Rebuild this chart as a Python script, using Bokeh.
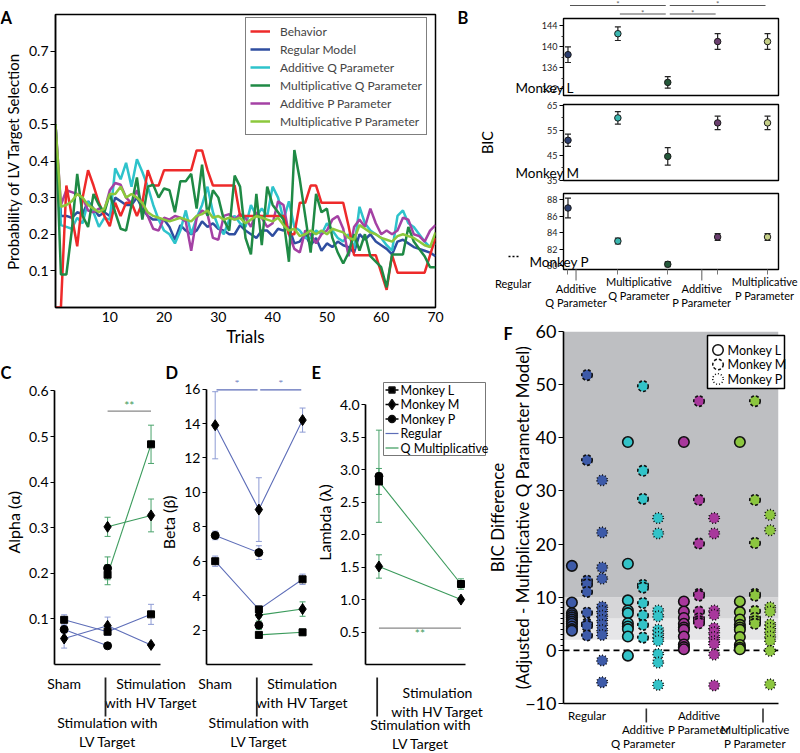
import math
from bokeh.plotting import figure
from bokeh.models import (ColumnDataSource, Range1d, FixedTicker, Legend, LegendItem,
                          Whisker, TeeHead, BoxAnnotation, Span, PrintfTickFormatter)
from bokeh.layouts import row, column
from bokeh.embed import file_html
from bokeh.resources import INLINE
from bokeh.core.properties import value

# ---------------- DATA ----------------
trials = list(range(71))
behavior = [0.0, 0.0, 0.333, 0.25, 0.167, 0.30, 0.375, 0.333, 0.286, 0.25,
            0.222, 0.286, 0.25, 0.286, 0.286, 0.25, 0.286, 0.375, 0.333, 0.333,
            0.375, 0.375, 0.375, 0.375, 0.375, 0.375, 0.429, 0.429, 0.375, 0.333,
            0.333, 0.333, 0.333, 0.333, 0.25, 0.25, 0.25, 0.25, 0.25, 0.25,
            0.25, 0.25, 0.25, 0.20, 0.20, 0.286, 0.286, 0.333, 0.333, 0.286,
            0.286, 0.286, 0.286, 0.286, 0.222, 0.143, 0.143, 0.143, 0.143, 0.143,
            0.095, 0.048, 0.143, 0.095, 0.095, 0.095, 0.095, 0.095, 0.095, 0.143, 0.19]
regular_model = [0.5, 0.25, 0.25, 0.245, 0.26, 0.255, 0.29, 0.27, 0.25, 0.26,
                 0.25, 0.30, 0.29, 0.28, 0.28, 0.30, 0.27, 0.25, 0.24, 0.24,
                 0.24, 0.22, 0.185, 0.225, 0.21, 0.20, 0.21, 0.235, 0.22, 0.23,
                 0.215, 0.21, 0.20, 0.20, 0.225, 0.21, 0.20, 0.19, 0.21, 0.21,
                 0.195, 0.215, 0.21, 0.22, 0.175, 0.18, 0.20, 0.17, 0.19, 0.155,
                 0.175, 0.165, 0.18, 0.17, 0.165, 0.15, 0.20, 0.185, 0.20, 0.18,
                 0.17, 0.16, 0.145, 0.18, 0.185, 0.175, 0.165, 0.16, 0.155, 0.15, 0.14]
additive_q = [0.5, 0.225, 0.22, 0.215, 0.245, 0.23, 0.29, 0.26, 0.22, 0.245,
              0.24, 0.38, 0.35, 0.395, 0.33, 0.405, 0.37, 0.33, 0.28, 0.24,
              0.21, 0.20, 0.175, 0.21, 0.265, 0.20, 0.245, 0.28, 0.33, 0.26,
              0.22, 0.20, 0.24, 0.25, 0.23, 0.22, 0.28, 0.25, 0.27, 0.25,
              0.33, 0.30, 0.24, 0.29, 0.22, 0.21, 0.19, 0.19, 0.21, 0.20,
              0.23, 0.21, 0.19, 0.18, 0.20, 0.16, 0.275, 0.23, 0.21, 0.20,
              0.19, 0.17, 0.155, 0.25, 0.265, 0.23, 0.22, 0.20, 0.18, 0.165, 0.175]
multiplicative_q = [0.5, 0.09, 0.09, 0.21, 0.365, 0.25, 0.22, 0.31, 0.28, 0.26,
                    0.31, 0.26, 0.215, 0.21, 0.28, 0.355, 0.24, 0.33, 0.335, 0.30,
                    0.325, 0.32, 0.26, 0.345, 0.345, 0.365, 0.27, 0.39, 0.25, 0.32,
                    0.30, 0.24, 0.21, 0.36, 0.33, 0.19, 0.145, 0.31, 0.17, 0.33,
                    0.28, 0.26, 0.24, 0.125, 0.43, 0.35, 0.25, 0.15, 0.31, 0.26,
                    0.27, 0.19, 0.15, 0.12, 0.15, 0.20, 0.155, 0.20, 0.14, 0.125,
                    0.11, 0.055, 0.145, 0.145, 0.145, 0.22, 0.18, 0.16, 0.14, 0.11, 0.11]
additive_p = [0.5, 0.28, 0.32, 0.315, 0.31, 0.30, 0.265, 0.26, 0.27, 0.265,
              0.32, 0.34, 0.335, 0.30, 0.285, 0.32, 0.28, 0.25, 0.215, 0.21,
              0.245, 0.24, 0.25, 0.245, 0.235, 0.155, 0.245, 0.265, 0.255, 0.19,
              0.185, 0.25, 0.255, 0.24, 0.255, 0.245, 0.22, 0.26, 0.245, 0.22,
              0.23, 0.29, 0.28, 0.20, 0.16, 0.15, 0.21, 0.20, 0.175, 0.20,
              0.21, 0.24, 0.25, 0.215, 0.14, 0.22, 0.24, 0.22, 0.27, 0.23,
              0.20, 0.21, 0.20, 0.21, 0.245, 0.24, 0.20, 0.195, 0.18, 0.21, 0.225]
multiplicative_p = [0.5, 0.275, 0.28, 0.29, 0.31, 0.30, 0.28, 0.27, 0.26, 0.27,
                    0.31, 0.31, 0.33, 0.30, 0.31, 0.30, 0.285, 0.26, 0.25, 0.245,
                    0.24, 0.235, 0.24, 0.245, 0.24, 0.235, 0.25, 0.255, 0.265, 0.245,
                    0.25, 0.24, 0.245, 0.24, 0.245, 0.23, 0.24, 0.25, 0.245, 0.24,
                    0.235, 0.245, 0.225, 0.21, 0.215, 0.195, 0.20, 0.21, 0.20, 0.21,
                    0.20, 0.215, 0.21, 0.205, 0.19, 0.185, 0.225, 0.215, 0.205, 0.20,
                    0.19, 0.185, 0.18, 0.195, 0.20, 0.195, 0.19, 0.18, 0.17, 0.165, 0.205]
a_labels = ["Behavior", "Regular Model", "Additive Q Parameter",
            "Multiplicative Q Parameter", "Additive P Parameter", "Multiplicative P Parameter"]
a_xticks = [10, 20, 30, 40, 50, 60, 70]
a_yticks = [0.1, 0.2, 0.3, 0.4, 0.5, 0.6, 0.7]

b_models = ["Regular", "Additive\nQ Parameter", "Multiplicative\nQ Parameter",
            "Additive\nP Parameter", "Multiplicative\nP Parameter"]
b_monkey_L = [138.5, 142.5, 133.2, 141.0, 141.0]
b_monkey_L_err = [1.5, 1.3, 1.1, 1.5, 1.5]
b_monkey_M = [51.0, 60.0, 44.5, 58.0, 58.0]
b_monkey_M_err = [2.5, 2.5, 3.5, 2.7, 2.7]
b_monkey_P = [87.0, 83.0, 80.2, 83.5, 83.5]
b_monkey_P_err = [1.2, 0.35, 0.3, 0.4, 0.4]
b_ticks_L = [132, 136, 140, 144]
b_minor_L = [134, 138, 142]
b_ticks_M = [35, 45, 55, 65]
b_minor_M = [40, 50, 60]
b_ticks_P = [80, 82, 84, 86, 88]
b_sig_pairs = [(0, 2), (2, 4), (1, 2), (2, 3)]
b_sig_rows = [1, 1, 0, 0]

conditions = ["Sham", "Stimulation with\nLV Target", "Stimulation\nwith HV Target"]
alpha_regular = {"L": ([0, 1, 2], [0.098, 0.072, 0.110], [0.011, 0.008, 0.022]),
                 "M": ([0, 1, 2], [0.057, 0.085, 0.043], [0.021, 0.019, 0.003]),
                 "P": ([0, 1], [0.077, 0.041], [0.008, 0.002])}
alpha_qmult = {"L": ([1, 2], [0.197, 0.483], [0.022, 0.042]),
               "M": ([1, 2], [0.302, 0.327], [0.021, 0.036]),
               "P": ([1], [0.211], [0.025])}
beta_regular = {"L": ([0, 1, 2], [6.0, 3.2, 4.95], [0.3, 0.2, 0.3]),
                "M": ([0, 1, 2], [13.9, 9.0, 14.2], [1.95, 1.85, 0.7]),
                "P": ([0, 1], [7.5, 6.5], [0.25, 0.4])}
beta_qmult = {"L": ([1, 2], [1.72, 1.87], [0.05, 0.18]),
              "M": ([1, 2], [2.87, 3.22], [0.12, 0.42]),
              "P": ([1], [2.28], [0.25])}
lambda_qmult = {"L": ([1, 2], [2.82, 1.24], [0.2, 0.08]),
                "M": ([1, 2], [1.51, 1.0], [0.18, 0.02]),
                "P": ([1], [2.9], [0.71])}
alpha_ticks = [0.1, 0.2, 0.3, 0.4, 0.5, 0.6]
beta_ticks = [2, 4, 6, 8, 10, 12, 14, 16]
lambda_ticks = [0.5, 1.0, 1.5, 2.0, 2.5, 3.0, 3.5, 4.0]
sig_alpha = [((1, 2), 0.556, "**")]
sig_beta = [((0, 1), 15.95, "*"), ((1, 2), 15.95, "*")]
sig_lambda = [((1, 2), 0.56, "**")]
e_legend_labels = ["Monkey L", "Monkey M", "Monkey P", "Regular", "Q Multiplicative"]

f_groups = ["Regular", "\nAdditive\nQ Parameter", "Additive\nP Parameter", "\nMultiplicative\nP Parameter"]
f_monkey_L = [[15.9, 9.0, 7.0, 6.6, 6.2, 5.8, 5.4, 5.0, 4.5, 4.0, 3.7],
              [39.2, 16.3, 9.4, 7.5, 7.0, 5.1, 4.5, 4.0, 2.6, -1.0],
              [39.2, 9.2, 7.3, 6.1, 5.0, 4.3, 3.9, 2.6, 1.1, 0.6, 0.2],
              [39.2, 9.2, 7.2, 5.8, 4.8, 4.3, 3.9, 2.5, 1.0, 0.5, 0.2]]
f_monkey_M = [[51.8, 35.8, 13.1, 12.4, 11.0, 7.1, 5.0, 4.6, 2.8],
              [49.7, 33.8, 28.5, 12.3, 11.8, 8.9, 6.6, 4.8, 2.4],
              [46.9, 28.3, 20.1, 10.6, 10.3, 7.3, 6.0, 5.5, 5.1],
              [46.9, 28.3, 20.2, 10.6, 10.3, 7.4, 6.1, 5.5, 5.0]]
f_monkey_P = [[32.0, 22.2, 15.6, 13.5, 8.2, 7.4, 6.5, 5.7, 4.8, 3.8, 2.9, -1.9, -6.0],
              [24.9, 22.0, 7.5, 6.4, 3.9, 3.2, 2.5, 1.8, -0.7, -2.3, -6.5],
              [24.9, 22.0, 7.5, 6.7, 4.2, 3.4, 2.5, 1.7, 1.2, -0.8, -6.6],
              [25.5, 22.6, 8.1, 7.3, 4.9, 4.2, 3.5, 2.6, 1.8, -0.1, -6.4]]
f_yticks = [-10, 0, 10, 20, 30, 40, 50, 60]
f_minor = [1, 2, 3, 4, 5, 6, 7, 8, 9]
f_bands = [(2, 6), (6, 10), (10, 60)]
f_legend_labels = ["Monkey L", "Monkey M", "Monkey P"]

# ---------------- STYLE / GEOMETRY ----------------
FONT = "Lato"
W, H = 800, 753


def mkfig(c, f, xr, yr, **kw):
    cx0, cy0, cx1, cy1 = c
    fx0, fy0, fx1, fy1 = f
    p = figure(width=round(cx1 - cx0), height=round(cy1 - cy0),
               min_border_left=round(fx0 - cx0), min_border_right=round(cx1 - fx1),
               min_border_top=round(fy0 - cy0), min_border_bottom=round(cy1 - fy1),
               x_range=Range1d(*xr), y_range=Range1d(*yr),
               output_backend="svg", toolbar_location=None, **kw)
    p.xgrid.visible = False
    p.ygrid.visible = False
    p.background_fill_color = None
    p.border_fill_color = None
    return p


def xmap(frame, xr, v):
    return frame[0] + (v - xr[0]) / (xr[1] - xr[0]) * (frame[2] - frame[0])


def axis_style(ax, size, lsize=None):
    ax.major_label_text_font = FONT
    ax.major_label_text_font_size = f"{size}px"
    ax.major_label_text_color = "black"
    ax.axis_label_text_font = FONT
    ax.axis_label_text_font_style = "normal"
    ax.axis_label_text_color = "black"
    if lsize:
        ax.axis_label_text_font_size = f"{lsize}px"
    ax.minor_tick_line_color = None


# overlay texts / decorations (page pixel space)
ov_text = dict(x=[], y=[], text=[], size=[], style=[], align=[], baseline=[], angle=[])
ov_seg = dict(x0=[], y0=[], x1=[], y1=[], color=[], width=[])
ov_dots = dict(x0=[], y0=[], x1=[], y1=[])
ov_box = dict(left=[], right=[], top=[], bottom=[], color=[], width=[])
ov_mark = dict(x=[], y=[], marker=[], size=[], fill=[], dash=[])


def otext(x, y, t, size, style="normal", align="left", baseline="top", angle=0.0):
    ov_text["x"].append(x); ov_text["y"].append(y); ov_text["text"].append(t)
    ov_text["size"].append(f"{size}px"); ov_text["style"].append(style)
    ov_text["align"].append(align); ov_text["baseline"].append(baseline); ov_text["angle"].append(angle)


def oseg(x0, y0, x1, y1, color="#333", width=1.6):
    for k, v in zip(("x0", "y0", "x1", "y1", "color", "width"), (x0, y0, x1, y1, color, width)):
        ov_seg[k].append(v)


def obox(l, r, t, b, color, width):
    for k, v in zip(("left", "right", "top", "bottom", "color", "width"), (l, r, t, b, color, width)):
        ov_box[k].append(v)


def omark(x, y, marker, size, fill, dash):
    for k, v in zip(("x", "y", "marker", "size", "fill", "dash"), (x, y, marker, size, fill, dash)):
        ov_mark[k].append(v)


for ltr, lx, ly in (("A", 0, 7.5), ("B", 457, 7.5), ("C", 0, 362.5), ("D", 165, 362.5),
                    ("E", 311, 362.5), ("F", 503, 323.5)):
    otext(lx, ly, ltr, 16.5, "bold")

# ---------------- PANEL A ----------------
A_FR = (51, 14, 435, 307)
pA = mkfig((0, 0, 478, 352), A_FR, (0, 70), (0, 0.8))
pA.outline_line_color = "black"
pA.outline_line_width = 1.5
ax = pA.xaxis[0]
axis_style(ax, 14, 17)
ax.ticker = FixedTicker(ticks=a_xticks)
ax.major_tick_out = 0
ax.major_tick_in = 0
ax.major_label_standoff = 4
ax.axis_label = "Trials"
ax.axis_label_standoff = 1
ax.axis_line_width = 1.5
ay = pA.yaxis[0]
axis_style(ay, 14, 15)
ay.ticker = FixedTicker(ticks=a_yticks)
ay.major_tick_out = 5
ay.major_tick_in = 0
ay.major_label_standoff = 2
ay.axis_label = "Probability of LV Target Selection"
ay.axis_label_standoff = 4
ay.axis_line_width = 1.5

a_series = [behavior, regular_model, additive_q, multiplicative_q, additive_p, multiplicative_p]
a_colors = ["#ee2a2a", "#2f4ea0", "#2ec3cb", "#1f8a45", "#a441a4", "#8cc83c"]
a_order = [1, 2, 4, 0, 3, 5]
a_rend = {}
for i in a_order:
    a_rend[i] = pA.line(trials, a_series[i], line_color=a_colors[i], line_width=2.5)
legA = Legend(items=[LegendItem(label=a_labels[i], renderers=[a_rend[i]]) for i in range(6)],
              location=(241 - 51, 307 - 135))
legA.label_text_font = FONT
legA.label_text_font_size = "12px"
legA.border_line_color = "black"
legA.border_line_width = 1.5
legA.glyph_width = 20
legA.glyph_height = 18
legA.label_height = 18
legA.label_standoff = 10
legA.padding = 4
legA.spacing = 0
legA.margin = 0
pA.add_layout(legA)

# ---------------- PANEL B ----------------
BX = (-0.09, 4.22)
b_colors = ["#2c3e6f", "#3bb7b0", "#24583a", "#6b3f6f", "#c5cf87"]
b_x = list(range(len(b_models)))

pBs = mkfig((478, 0, 800, 17), (507, 0, 778, 17), BX, (17, 0),
            x_axis_location=None, y_axis_location=None)
pBs.outline_line_color = None
for (a, b), lvl in zip(b_sig_pairs, b_sig_rows):
    yv = 13.5 - 8.5 * lvl
    pBs.segment(x0=[a + 0.04], y0=[yv], x1=[b - 0.04], y1=[yv], line_color="#555", line_width=1)
    pBs.text(x=[(a + b) / 2], y=[yv - 1.5], text=["*"], text_font=value(FONT),
             text_font_size="8px", text_color="#666", text_align="center", text_baseline="middle")


def b_panel(c, f, yr, vals, errs, ticks, minor, xaxis):
    kw = {} if xaxis else {"x_axis_location": None}
    p = mkfig(c, f, BX, yr, **kw)
    p.outline_line_color = "black"
    p.outline_line_width = 1.4
    ay = p.yaxis[0]
    axis_style(ay, 9)
    ay.major_label_text_color = "#222"
    ay.ticker = FixedTicker(ticks=ticks, minor_ticks=minor)
    ay.major_tick_out = 4
    ay.major_tick_in = 0
    ay.minor_tick_line_color = "#333"
    ay.minor_tick_out = 2
    ay.minor_tick_in = 0
    ay.major_label_standoff = 2
    ay.axis_line_color = None
    src = ColumnDataSource(dict(x=b_x, lo=[v - e for v, e in zip(vals, errs)],
                                hi=[v + e for v, e in zip(vals, errs)]))
    p.add_layout(Whisker(base="x", lower="lo", upper="hi", source=src, line_color="#222", line_width=1.2,
                         upper_head=TeeHead(size=6, line_color="#222", line_width=1.2),
                         lower_head=TeeHead(size=6, line_color="#222", line_width=1.2)))
    p.scatter(b_x, vals, marker="circle", size=6.5, fill_color=b_colors, line_color="#1a1a1a", line_width=1)
    return p


pBt = b_panel((478, 17, 800, 99), (507, 18, 778, 95), (130.7, 145.4), b_monkey_L, b_monkey_L_err,
              b_ticks_L, b_minor_L, False)
pBm = b_panel((478, 99, 800, 186), (507, 104, 778, 180), (34.8, 65.4), b_monkey_M, b_monkey_M_err,
              b_ticks_M, b_minor_M, False)
pBb = b_panel((478, 186, 800, 312), (507, 193, 778, 269), (79.57, 88.75), b_monkey_P, b_monkey_P_err,
              b_ticks_P, [], True)
bx = pBb.xaxis[0]
axis_style(bx, 9)
bx.ticker = FixedTicker(ticks=b_x)
bx.major_label_overrides = {i: "" for i in b_x}
bx.axis_line_color = None
bx.major_tick_line_color = "#777"
bx.major_tick_out = 5
bx.major_tick_in = 0

otext(515, 87, "Monkey L", 13.5, baseline="alphabetic")
otext(515, 172, "Monkey M", 13.5, baseline="alphabetic")
otext(529, 261, "Monkey P", 13.5, baseline="alphabetic")
ov_dots["x0"].append(508); ov_dots["x1"].append(519); ov_dots["y0"].append(256); ov_dots["y1"].append(256)
otext(487, 142, "BIC", 14.5, align="center", baseline="middle", angle=math.pi / 2)
b_label_tops = [276, 281, 274, 281, 274]
for i, (txt, top) in enumerate(zip(b_models, b_label_tops)):
    xc = xmap((507, 0, 778, 0), BX, i)
    otext(xc, top, txt, 11, align="center")
    if top > 278:
        oseg(xc, 269, xc, 280, color="#777", width=1.2)

# ---------------- PANELS C, D, E ----------------
MK = {"L": ("square", 7), "M": ("diamond", 11), "P": ("circle", 8)}
REG_LINE, REG_ERR = "#5d6db8", "#8d9bd4"
Q_LINE, Q_ERR = "#3a9a5b", "#4aa36b"


def draw_params(p, series, lc, ec):
    for m, (xs, ys, es) in series.items():
        if len(xs) > 1:
            p.line(xs, ys, line_color=lc, line_width=1.1)
        src = ColumnDataSource(dict(x=xs, lo=[y - e for y, e in zip(ys, es)], hi=[y + e for y, e in zip(ys, es)]))
        p.add_layout(Whisker(base="x", lower="lo", upper="hi", source=src, line_color=ec, line_width=1,
                             upper_head=TeeHead(size=6, line_color=ec, line_width=1),
                             lower_head=TeeHead(size=6, line_color=ec, line_width=1)))


def draw_markers(p, series):
    for m, (xs, ys, es) in series.items():
        mk, sz = MK[m]
        p.scatter(xs, ys, marker=mk, size=sz, fill_color="black", line_color="black")


def cde_axes(p, ylabel, yticks, ybounds, xbounds, labels=True, fmt=None):
    p.outline_line_color = None
    ay = p.yaxis[0]
    axis_style(ay, 14, 16)
    ay.ticker = FixedTicker(ticks=yticks)
    if fmt:
        ay.formatter = PrintfTickFormatter(format=fmt)
    ay.bounds = ybounds
    ay.axis_label = ylabel
    ay.axis_label_standoff = 3
    ay.major_tick_out = 4
    ay.major_tick_in = 0
    ay.major_label_standoff = 2
    ay.axis_line_width = 1.7
    ax = p.xaxis[0]
    axis_style(ax, 14)
    ax.bounds = xbounds
    ax.axis_line_width = 1.7
    ax.major_tick_out = 0
    ax.major_tick_in = 0
    ax.major_label_standoff = 10
    ax.major_label_text_line_height = 1.15
    if labels:
        ax.ticker = FixedTicker(ticks=[0, 1, 2])
        ax.major_label_overrides = {0: conditions[0], 1: "\n\n" + conditions[1], 2: conditions[2]}
    else:
        ax.ticker = FixedTicker(ticks=[1, 2])
        ax.major_label_overrides = {1: "", 2: ""}


def sig(p, items, color, tcolor, dy, tsize):
    for (a, b), yv, txt in items:
        g = 0.03 if len(items) > 1 else 0.0
        p.segment(x0=[a + g], y0=[yv], x1=[b - g], y1=[yv], line_color=color, line_width=1.2)
        p.text(x=[(a + b) / 2], y=[yv + dy], text=[txt], text_font=value(FONT), text_font_size=tsize,
               text_color=tcolor, text_align="center", text_baseline="middle")


C_FR, C_XR = (50, 380, 165, 677), (-0.222, 2.333)
pC = mkfig((0, 352, 200, 753), C_FR, C_XR, (0, 0.623))
cde_axes(pC, "Alpha (\u03b1)", alpha_ticks, (0, 0.6), (-0.222, 2.222))
draw_params(pC, alpha_regular, REG_LINE, REG_ERR)
draw_params(pC, alpha_qmult, Q_LINE, Q_ERR)
draw_markers(pC, alpha_regular)
draw_markers(pC, alpha_qmult)
sig(pC, sig_alpha, "#888", Q_LINE, 0.013, "12px")

D_FR, D_XR = (202, 380, 315, 677), (-0.199, 2.296)
pD = mkfig((156, 352, 348, 753), D_FR, D_XR, (0, 16.5))
pD.margin = (0, 0, 0, 156 - 200)
cde_axes(pD, "Beta (\u03b2)", beta_ticks, (0, 16), (-0.199, 2.22))
draw_params(pD, beta_regular, REG_LINE, REG_ERR)
draw_params(pD, beta_qmult, Q_LINE, Q_ERR)
draw_markers(pD, beta_regular)
draw_markers(pD, beta_qmult)
sig(pD, sig_beta, REG_LINE, REG_LINE, 0.35, "12px")

E_FR, E_XR = (363, 362, 490, 677), (0.836, 2.36)
pE = mkfig((311, 352, 490, 753), E_FR, E_XR, (0, 4.375))
pE.margin = (0, 0, 0, 311 - 348)
cde_axes(pE, "Lambda (\u03bb)", lambda_ticks, (0, 4.0), (0.836, 2.06), labels=False, fmt="%.1f")
draw_params(pE, lambda_qmult, Q_LINE, Q_ERR)
draw_markers(pE, lambda_qmult)
sig(pE, sig_lambda, "#888", Q_LINE, -0.085, "12px")

# legend of panel E (drawn on the overlay so that it can reach past the frame)
obox(383, 485, 382, 455, "#777", 1.0)
e_leg_colors = ["black", "black", "black", REG_LINE, Q_LINE]
for k, lbl in enumerate(e_legend_labels):
    yk = 389.5 + 14.5 * k
    oseg(385, yk, 398, yk, color=e_leg_colors[k], width=1.5 if k < 3 else 1.2)
    if k < 3:
        mk, sz = MK["LMP"[k]]
        omark(391.5, yk, mk, sz - 1, "black", "solid")
    otext(400, yk, lbl, 12.5, baseline="middle")

# long ticks at the LV condition and E's condition labels (placed as in the reference)
for fr, xr in ((C_FR, C_XR), (D_FR, D_XR), (E_FR, E_XR)):
    xl = xmap(fr, xr, 1)
    oseg(xl, 677, xl, 716, color="#222", width=1.8)
otext(420, 715, conditions[1], 14, align="center")
otext(437, 683, conditions[2], 14, align="center")

# ---------------- PANEL F ----------------
F_FR, F_XR = (563, 331, 787, 708), (-0.42, 3.42)
pF = mkfig((478, 312, 800, 753), F_FR, F_XR, (-10, 60))
pF.outline_line_color = None
for (lo, hi), col in zip(f_bands, ["#e6e6e8", "#d6d6d8", "#bebfc2"]):
    pF.add_layout(BoxAnnotation(bottom=lo, top=hi, fill_color=col, fill_alpha=1.0, line_color=None,
                                level="underlay"))
pF.add_layout(Span(location=0, dimension="width", line_color="black", line_width=1.6,
                   line_dash="6 4", level="underlay"))
fy = pF.yaxis[0]
axis_style(fy, 18, 17)
fy.ticker = FixedTicker(ticks=f_yticks, minor_ticks=f_minor)
fy.major_tick_out = 5
fy.major_tick_in = 0
fy.minor_tick_line_color = "black"
fy.minor_tick_out = 3
fy.minor_tick_in = 0
fy.major_label_standoff = 2
fy.axis_line_width = 1.6
fy.axis_label = "BIC Difference\n(Adjusted - Multiplicative Q Parameter Model)"
fy.axis_label_standoff = -11
fx = pF.xaxis[0]
axis_style(fx, 11.5)
fx.ticker = FixedTicker(ticks=[0, 1, 2, 3])
fx.major_label_overrides = {i: t for i, t in enumerate(f_groups)}
fx.major_label_text_line_height = 1.1
fx.major_tick_out = 0
fx.major_tick_in = 0
fx.major_label_standoff = 5
fx.axis_line_width = 1.6
for i in (1, 3):
    xl = xmap(F_FR, F_XR, i)
    oseg(xl, 708, xl, 722, color="#333", width=1.6)
f_colors = ["#3d5aa8", "#33c3c8", "#a8389c", "#8cc63f"]
f_offset = {"L": -0.27, "M": 0.0, "P": 0.27}
f_dash = {"L": "solid", "M": "3 2", "P": "1 2"}
for m, data in (("L", f_monkey_L), ("M", f_monkey_M), ("P", f_monkey_P)):
    xs, ys, cs = [], [], []
    for g, vals in enumerate(data):
        xs += [g + f_offset[m]] * len(vals)
        ys += vals
        cs += [f_colors[g]] * len(vals)
    pF.scatter(xs, ys, marker="circle", size=10.5, fill_color=cs, line_color="#111",
               line_width=1.6, line_dash=f_dash[m])

# legend of panel F (overlay)
obox(707, 784, 335, 388, "black", 1.5)
for k, lbl in enumerate(f_legend_labels):
    yk = 349.5 + 14.5 * k
    omark(717.5, yk, "circle", 10.5, "white", f_dash["LMP"[k]])
    otext(727, yk, lbl, 12.5, baseline="middle")

# ---------------- OVERLAY (panel letters, out-of-frame labels, ticks, legends) ----------------
ov = figure(width=W, height=H, x_range=Range1d(0, W), y_range=Range1d(H, 0),
            min_border_left=0, min_border_right=0, min_border_top=0, min_border_bottom=0,
            x_axis_location=None, y_axis_location=None, output_backend="svg", toolbar_location=None)
ov.xgrid.visible = False
ov.ygrid.visible = False
ov.outline_line_color = None
ov.background_fill_color = None
ov.border_fill_color = None
ov.quad(left="left", right="right", top="top", bottom="bottom", fill_color="white",
        line_color="color", line_width="width", source=ColumnDataSource(ov_box))
ov.segment(x0="x0", y0="y0", x1="x1", y1="y1", line_color="color", line_width="width",
           source=ColumnDataSource(ov_seg))
ov.segment(x0="x0", y0="y0", x1="x1", y1="y1", line_color="black", line_width=1.3, line_dash="2 2",
           source=ColumnDataSource(ov_dots))
for dash in ("solid", "3 2", "1 2"):
    idx = [k for k in range(len(ov_mark["x"])) if ov_mark["dash"][k] == dash]
    if idx:
        sub = {k: [ov_mark[k][j] for j in idx] for k in ("x", "y", "marker", "size", "fill")}
        ov.scatter(x="x", y="y", marker="marker", size="size", fill_color="fill", line_color="#111",
                   line_width=1.5, line_dash=dash, source=ColumnDataSource(sub))
for st in ("normal", "bold"):
    for bl in ("top", "alphabetic", "middle"):
        idx = [k for k in range(len(ov_text["x"])) if ov_text["style"][k] == st and ov_text["baseline"][k] == bl]
        if not idx:
            continue
        sub = {k: [ov_text[k][j] for j in idx] for k in ("x", "y", "text", "size", "align", "angle")}
        ov.text(x="x", y="y", text="text", angle="angle", text_font=value(FONT), text_font_size="size",
                text_font_style=st, text_align="align", text_baseline=bl, text_color="black",
                text_line_height=1.15, source=ColumnDataSource(sub))

# ---------------- LAYOUT ----------------
left = column(pA, row(pC, pD, pE))
right = column(pBs, pBt, pBm, pBb, pF)
right.margin = (0, 0, 0, 478 - 490)
ov.margin = (-H, 0, 0, 0)
layout = column(row(left, right), ov)
open("out.html", "w").write(file_html(layout, INLINE))
